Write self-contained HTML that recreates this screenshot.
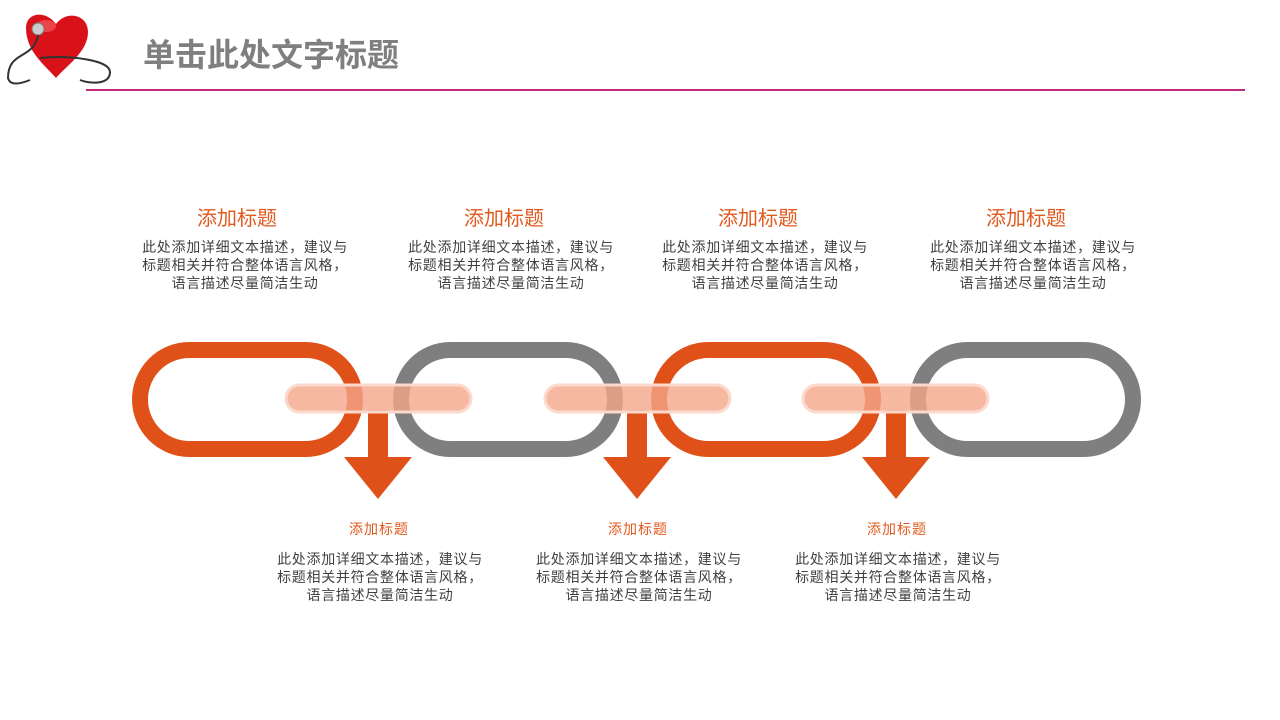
<!DOCTYPE html>
<html><head><meta charset="utf-8"><style>
body{margin:0;width:1280px;height:720px;background:#fff;overflow:hidden;position:relative;font-family:"Liberation Sans","Noto Sans CJK SC",sans-serif}
.t{position:absolute;text-align:center;color:#e05a1f;white-space:nowrap}
.d{position:absolute;text-align:center;color:#404040;font-size:14px;letter-spacing:0.7px;line-height:18px;width:260px;white-space:nowrap}
</style></head><body>
<svg width="1280" height="720" style="position:absolute;left:0;top:0">
<g>
<path d="M26 28 C26 12 46 10 56 24 C66 10 88 14 88 32 C88 52 66 66 56 78 C46 66 26 52 26 28Z" fill="#d9121a"/>
<ellipse cx="46" cy="26" rx="10" ry="6" fill="#f77" opacity=".5"/>
<circle cx="38" cy="29" r="6" fill="#ccc" stroke="#777"/>
<path d="M38 35 C34 60 8 50 8 78 C10 86 20 84 30 80 M40 58 C70 55 110 60 110 72 C110 85 90 84 80 80" fill="none" stroke="#333" stroke-width="2"/>
</g>
<line x1="86" y1="90" x2="1245" y2="90" stroke="#c0277f" stroke-width="2"/>
<g fill="none" stroke-width="16">
<rect x="140" y="350" width="215" height="99" rx="49.5" stroke="#e05119"/>
<rect x="401" y="350" width="214" height="99" rx="49.5" stroke="#7f7f7f"/>
<rect x="659" y="350" width="214" height="99" rx="49.5" stroke="#e05119"/>
<rect x="918" y="350" width="215" height="99" rx="49.5" stroke="#7f7f7f"/>
</g>
<g fill="#e05119">
<rect x="368" y="410" width="20" height="48"/><polygon points="344,457 412,457 378,499"/>
<rect x="627" y="410" width="20" height="48"/><polygon points="603,457 671,457 637,499"/>
<rect x="886" y="410" width="20" height="48"/><polygon points="862,457 930,457 896,499"/>
</g>
<g fill="#f4a68a" fill-opacity=".8" stroke="#fbd9cc" stroke-width="3">
<rect x="286" y="385" width="185" height="27" rx="13.5"/>
<rect x="545" y="385" width="185" height="27" rx="13.5"/>
<rect x="803" y="385" width="185" height="27" rx="13.5"/>
</g>
</svg>
<div style="position:absolute;left:143px;top:30px;font-size:32px;font-weight:bold;color:#7f7f7f">单击此处文字标题</div>
<div class="t" style="left:137px;width:200px;top:202px;font-size:20px">添加标题</div>
<div class="t" style="left:404px;width:200px;top:202px;font-size:20px">添加标题</div>
<div class="t" style="left:658px;width:200px;top:202px;font-size:20px">添加标题</div>
<div class="t" style="left:926px;width:200px;top:202px;font-size:20px">添加标题</div>
<div class="d" style="left:115px;top:238px">此处添加详细文本描述，建议与<br>标题相关并符合整体语言风格，<br>语言描述尽量简洁生动</div>
<div class="d" style="left:381px;top:238px">此处添加详细文本描述，建议与<br>标题相关并符合整体语言风格，<br>语言描述尽量简洁生动</div>
<div class="d" style="left:635px;top:238px">此处添加详细文本描述，建议与<br>标题相关并符合整体语言风格，<br>语言描述尽量简洁生动</div>
<div class="d" style="left:903px;top:238px">此处添加详细文本描述，建议与<br>标题相关并符合整体语言风格，<br>语言描述尽量简洁生动</div>
<div class="t" style="left:279px;width:200px;top:519px;font-size:14px;letter-spacing:1px">添加标题</div>
<div class="t" style="left:538px;width:200px;top:519px;font-size:14px;letter-spacing:1px">添加标题</div>
<div class="t" style="left:797px;width:200px;top:519px;font-size:14px;letter-spacing:1px">添加标题</div>
<div class="d" style="left:250px;top:550px">此处添加详细文本描述，建议与<br>标题相关并符合整体语言风格，<br>语言描述尽量简洁生动</div>
<div class="d" style="left:509px;top:550px">此处添加详细文本描述，建议与<br>标题相关并符合整体语言风格，<br>语言描述尽量简洁生动</div>
<div class="d" style="left:768px;top:550px">此处添加详细文本描述，建议与<br>标题相关并符合整体语言风格，<br>语言描述尽量简洁生动</div>
</body></html>
